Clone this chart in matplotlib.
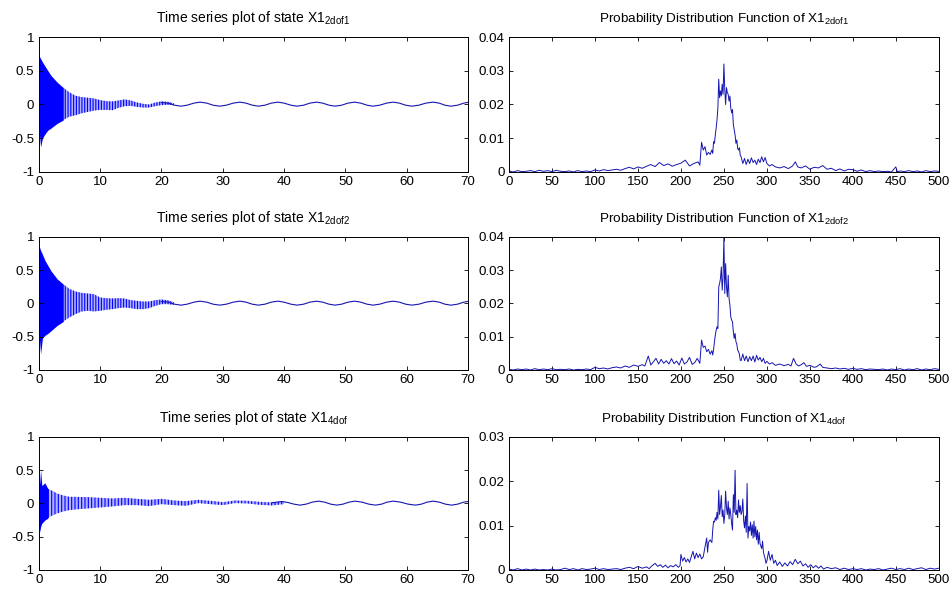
import matplotlib
matplotlib.use('Agg')
import matplotlib.pyplot as plt
from matplotlib.ticker import FuncFormatter

plt.rcParams['font.family'] = ['Liberation Sans', 'DejaVu Sans']
plt.rcParams['mathtext.fontset'] = 'custom'
plt.rcParams['mathtext.rm'] = 'Liberation Sans'
plt.rcParams['mathtext.it'] = 'Liberation Sans:italic'
plt.rcParams['hatch.linewidth'] = 0.8
plt.rcParams['hatch.color'] = '#0000ff'

# ---------------- time-series data ----------------
# envelope of the dense high-frequency part
ts1_t = [0, 0.3, 0.6, 1, 1.5, 2, 3, 4, 5, 6, 7, 8, 9, 10, 11, 12, 13, 14, 15, 16, 17, 18, 19, 20, 21, 22]
ts1_hi = [0.73, 0.68, 0.63, 0.57, 0.5, 0.43, 0.33, 0.25, 0.18, 0.13, 0.11, 0.10, 0.09, 0.065, 0.05, 0.045,
          0.06, 0.075, 0.06, 0.03, 0.01, 0.0, 0.03, 0.045, 0.04, 0.02]
ts1_lo = [-0.33, -0.63, -0.5, -0.44, -0.38, -0.35, -0.28, -0.23, -0.18, -0.16, -0.13, -0.11, -0.09, -0.08,
          -0.08, -0.085, -0.05, -0.025, -0.02, -0.035, -0.045, -0.045, -0.025, -0.01, -0.005, -0.01]

ts2_t = [0, 0.3, 0.6, 1, 1.5, 2, 3, 4, 5, 6, 7, 8, 9, 10, 11, 12, 13, 14, 15, 16, 17, 18, 19, 20, 21, 22]
ts2_hi = [0.88, 0.8, 0.74, 0.65, 0.57, 0.49, 0.37, 0.29, 0.22, 0.18, 0.16, 0.15, 0.14, 0.09, 0.08, 0.075,
          0.08, 0.075, 0.05, 0.04, 0.03, 0.03, 0.05, 0.06, 0.05, 0.02]
ts2_lo = [-0.4, -0.76, -0.52, -0.48, -0.45, -0.41, -0.33, -0.27, -0.21, -0.16, -0.12, -0.11, -0.12, -0.11,
          -0.095, -0.085, -0.07, -0.06, -0.07, -0.085, -0.085, -0.07, -0.035, -0.01, -0.01, -0.02]

ts3_t = [0, 0.15, 0.3, 0.5, 1, 1.5, 2, 3, 4, 5, 6, 8, 10, 12, 14, 16, 18, 20, 22, 24, 26, 28, 30, 32,
         34, 36, 38, 40]
ts3_hi = [0.38, 0.3, 0.51, 0.27, 0.31, 0.22, 0.2, 0.15, 0.12, 0.1, 0.1, 0.095, 0.085, 0.075, 0.085, 0.07,
          0.055, 0.07, 0.045, 0.035, 0.055, 0.04, 0.02, 0.045, 0.04, 0.025, 0.015, 0.03]
ts3_lo = [-0.3, -0.43, -0.35, -0.3, -0.25, -0.22, -0.19, -0.15, -0.12, -0.1, -0.09, -0.075, -0.06, -0.045,
          -0.025, -0.025, -0.04, -0.01, -0.025, -0.035, 0.005, -0.01, -0.025, 0.005, 0.0, -0.02, -0.03, -0.01]

# slow tail oscillation (peaks, troughs and in-between readings)
tail1_t = [20.0, 21.1, 22.1, 23.2, 24.2, 25.3, 26.3, 27.4, 28.4, 29.5, 30.6, 31.7, 32.8, 33.8, 34.8, 35.8,
           36.9, 37.9, 39.0, 40.0, 41.1, 42.1, 43.2, 44.2, 45.3, 46.3, 47.3, 48.3, 49.4, 50.4, 51.5, 52.5,
           53.5, 54.5, 55.6, 56.7, 57.8, 58.8, 59.8, 60.8, 62.0, 63.1, 64.3, 65.3, 66.2, 67.2, 68.3, 69.3, 70.0]
tail1_v = [0.03, 0.02, -0.01, -0.025, -0.01, 0.02, 0.035, 0.02, -0.01, -0.025, -0.01, 0.02, 0.035, 0.02,
           -0.01, -0.025, -0.01, 0.02, 0.035, 0.02, -0.01, -0.025, -0.01, 0.02, 0.035, 0.02, -0.01, -0.025,
           -0.01, 0.02, 0.035, 0.02, -0.01, -0.025, -0.01, 0.02, 0.035, 0.02, -0.01, -0.025, -0.01, 0.02,
           0.035, 0.02, -0.01, -0.025, -0.01, 0.02, 0.032]
tail2_t = [20.0, 21.1, 22.1, 23.2, 24.2, 25.3, 26.3, 27.4, 28.4, 29.5, 30.6, 31.7, 32.8, 33.8, 34.8, 35.8,
           36.9, 37.9, 39.0, 40.0, 41.1, 42.1, 43.2, 44.2, 45.3, 46.3, 47.3, 48.3, 49.4, 50.4, 51.5, 52.5,
           53.5, 54.5, 55.6, 56.7, 57.8, 58.8, 59.8, 60.8, 62.0, 63.1, 64.3, 65.3, 66.2, 67.2, 68.3, 69.3, 70.0]
tail2_v = [0.03, 0.02, -0.01, -0.025, -0.01, 0.02, 0.035, 0.02, -0.01, -0.025, -0.01, 0.02, 0.035, 0.02,
           -0.01, -0.025, -0.01, 0.02, 0.035, 0.02, -0.01, -0.025, -0.01, 0.02, 0.035, 0.02, -0.01, -0.025,
           -0.01, 0.02, 0.035, 0.02, -0.01, -0.025, -0.01, 0.02, 0.035, 0.02, -0.01, -0.025, -0.01, 0.02,
           0.035, 0.02, -0.01, -0.025, -0.01, 0.02, 0.032]
tail3_t = [38.0, 39.6, 40.6, 41.6, 42.6, 43.6, 44.6, 45.6, 46.6, 47.6, 48.6, 49.6, 50.6, 51.6, 52.7, 53.8,
           54.9, 55.9, 56.8, 57.8, 59.0, 60.2, 61.4, 62.4, 63.3, 64.3, 65.3, 66.3, 67.3, 68.3, 69.3, 70.0]
tail3_v = [0.01, 0.03, 0.015, -0.01, -0.025, -0.01, 0.02, 0.035, 0.02, -0.01, -0.025, -0.01, 0.02, 0.035,
           0.02, -0.01, -0.025, -0.01, 0.02, 0.035, 0.02, -0.01, -0.025, -0.01, 0.02, 0.035, 0.02, -0.01,
           -0.025, -0.01, 0.02, 0.03]

# ---------------- PDF data ----------------
pdf1_x = [0, 5, 10, 15, 20, 25, 30, 35, 40, 45, 50, 55, 60, 65, 70, 75, 80, 85, 90, 95, 100, 105, 110, 115,
          120, 125, 130, 135, 140, 145, 150, 155, 160, 165, 170, 175, 180, 185, 190, 195, 200, 205, 210, 215,
          220, 222, 224, 226, 228, 230, 232, 234, 236, 237, 238, 239, 240, 241, 242, 243, 244, 245, 246, 247,
          248, 249, 250, 251, 252, 253, 254, 255, 256, 257, 258, 259, 260, 261, 262, 263, 264, 265, 266, 267,
          268, 269, 270, 272, 274, 276, 278, 280, 282, 284, 286, 288, 290, 292, 294, 296, 298, 300, 303, 306,
          310, 315, 320, 325, 330, 333, 336, 340, 345, 350, 355, 360, 365, 370, 375, 380, 385, 390, 395, 400,
          405, 410, 415, 420, 425, 430, 435, 440, 445, 450, 452, 455, 460, 465, 470, 475, 480, 485, 490, 495, 500]
pdf1_y = [0.0003, 0, 0.0004, 0.0001, 0.0002, 0.0004, 0.0001, 0.0005, 0.0002, 0.0004, 0.0001, 0.0005, 0.0002,
          0.0001, 0.0003, 0, 0.0004, 0.0001, 0.0003, 0.0001, 0.0006, 0.0003, 0.0007, 0.0004, 0.0006, 0.0008,
          0.0005, 0.001, 0.0014, 0.0009, 0.0015, 0.0011, 0.0017, 0.0022, 0.0016, 0.0028, 0.0019, 0.0024,
          0.0017, 0.0022, 0.0026, 0.0035, 0.0018, 0.0025, 0.003,
          0.002, 0.0088, 0.0065, 0.0075, 0.005, 0.0058, 0.0052, 0.0065, 0.0055, 0.009, 0.0085, 0.011, 0.013,
          0.0155, 0.019, 0.0275, 0.022, 0.024, 0.0225, 0.026, 0.023, 0.032, 0.0245, 0.02, 0.025, 0.0235,
          0.023, 0.021, 0.0225, 0.019, 0.0175, 0.0185, 0.014, 0.0125, 0.011, 0.0085, 0.0095, 0.007, 0.0065,
          0.0072, 0.005, 0.0045, 0.0025, 0.004, 0.0022, 0.0038, 0.0025, 0.0042, 0.0028, 0.0035, 0.0022,
          0.0038, 0.0028, 0.0045, 0.003, 0.0043, 0.0025, 0.0018, 0.0022, 0.0015, 0.0012, 0.0016, 0.001,
          0.0018, 0.003, 0.0015, 0.0012, 0.0018, 0.0008, 0.0014, 0.0012, 0.0019, 0.0008, 0.0011, 0.0004,
          0.0009, 0.0003, 0.0008, 0.0007, 0.0002, 0.0006, 0.0001, 0.0004, 0.0001, 0.0003, 0.0001, 0.0002, 0,
          0.0015, 0, 0.0003, 0.0001, 0.0004, 0.0001, 0.0003, 0, 0.0004, 0.0001, 0.0003, 0.0002]

pdf2_x = [0, 5, 10, 15, 20, 25, 30, 35, 40, 45, 50, 55, 60, 65, 70, 75, 80, 85, 90, 95, 100, 105, 110, 115,
          120, 125, 130, 135, 140, 145, 150, 155, 158, 162, 165, 168, 171, 174, 177, 180, 183, 186, 189, 192,
          195, 198, 201, 204, 207, 210, 213, 216, 219, 222, 224, 226, 228, 230, 232, 234, 236, 237, 238, 239,
          240, 241, 242, 243, 244, 245, 246, 247, 248, 249, 250, 251, 252, 253, 254, 255, 256, 257, 258, 259,
          260, 261, 262, 263, 264, 265, 266, 267, 268, 269, 270, 272, 274, 276, 278, 280, 282, 284, 286, 288,
          290, 292, 294, 296, 298, 300, 303, 306, 310, 315, 320, 325, 328, 331, 334, 337, 340, 343, 346, 350,
          355, 358, 362, 365, 370, 375, 380, 385, 390, 395, 400, 405, 410, 415, 420, 425, 430, 435, 440, 445,
          450, 455, 460, 465, 470, 475, 480, 485, 490, 495, 500]
pdf2_y = [0.0002, 0, 0.0003, 0.0001, 0.0003, 0, 0.0004, 0.0001, 0.0003, 0.0001, 0.0004, 0.0001, 0.0002,
          0.0001, 0.0003, 0, 0.0002, 0.0001, 0.0003, 0.0001, 0.0008, 0.0004, 0.0006, 0.0003, 0.0007, 0.0009,
          0.0006, 0.0012, 0.0008, 0.0015, 0.0011, 0.0016, 0.0012, 0.0042, 0.0015, 0.0025, 0.0035, 0.0018,
          0.0032, 0.002, 0.0028, 0.0018, 0.0034, 0.0019, 0.0027, 0.0015, 0.0036, 0.0018, 0.0024, 0.0038,
          0.0017, 0.0022, 0.0035, 0.002, 0.009, 0.0068, 0.0072, 0.0055, 0.0062, 0.0048, 0.0058, 0.0045,
          0.0062, 0.0085, 0.0105, 0.012, 0.013, 0.0125, 0.025, 0.026, 0.0275, 0.031, 0.024, 0.028, 0.04,
          0.023, 0.032, 0.025, 0.022, 0.0285, 0.0215, 0.0195, 0.016, 0.015, 0.0145, 0.0115, 0.0095, 0.011,
          0.0085, 0.0078, 0.006, 0.0055, 0.0048, 0.003, 0.0028, 0.0048, 0.0028, 0.0042, 0.0025, 0.004,
          0.0028, 0.0042, 0.0024, 0.0044, 0.003, 0.0038, 0.0025, 0.0035, 0.002, 0.0026, 0.0018, 0.0022,
          0.0014, 0.0018, 0.0013, 0.0017, 0.0012, 0.0035, 0.0018, 0.0012, 0.0016, 0.0022, 0.0011, 0.0014,
          0.0008, 0.001, 0.0018, 0.0008, 0.0006, 0.0004, 0.0006, 0.0003, 0.0005, 0.0002, 0.0005, 0.0002,
          0.0004, 0.0001, 0.0003, 0.0002, 0.0001, 0.0003, 0, 0.0003, 0.0001, 0.0004, 0, 0.0003, 0.0001,
          0.0004, 0, 0.0003, 0.0001, 0.0004, 0.0002]

pdf3_x = [0, 5, 10, 15, 20, 25, 30, 35, 40, 45, 50, 55, 60, 65, 70, 75, 80, 85, 90, 95, 100, 105, 110, 115,
          120, 125, 130, 135, 140, 145, 150, 155, 160, 163, 166, 170, 173, 176, 179, 182, 185, 188, 191, 194,
          197, 199, 200, 202, 204, 206, 208, 210, 212, 214, 216, 218, 220, 222, 224, 226, 228, 230, 231, 232,
          234, 236, 237, 238, 239, 240, 241, 242, 243, 244, 245, 246, 247, 248, 249, 250, 251, 252, 253, 254,
          255, 256, 257, 258, 259, 260, 261, 262, 263, 264, 265, 266, 267, 268, 269, 270, 271, 272, 273, 274,
          275, 276, 277, 278, 279, 280, 281, 282, 283, 284, 285, 286, 287, 288, 289, 290, 291, 292, 294, 295,
          296, 298, 299, 300, 302, 304, 306, 308, 310, 312, 315, 318, 321, 324, 327, 330, 333, 336, 339, 342,
          345, 348, 351, 354, 357, 360, 363, 366, 370, 375, 380, 385, 390, 395, 400, 405, 410, 415, 420, 425,
          430, 435, 440, 445, 450, 455, 460, 465, 470, 475, 480, 485, 490, 495, 500]
pdf3_y = [0.0002, 0, 0.0003, 0, 0.0002, 0, 0.0002, 0, 0.0001, 0, 0.0002, 0, 0.0001, 0.0004, 0.0001, 0.0003,
          0, 0.0003, 0.0001, 0.0002, 0.0004, 0.0001, 0.0003, 0.0001, 0.0002, 0.0003, 0.0001, 0.0004, 0.0006,
          0.0003, 0.0008, 0.0004, 0.0007, 0.0003, 0.0009, 0.0015, 0.0008, 0.0012, 0.0006, 0.0011, 0.0005,
          0.001, 0.0007, 0.0012, 0.0006, 0.001, 0.0035, 0.002, 0.0028, 0.0018, 0.0025, 0.0017, 0.003, 0.0042,
          0.0025, 0.0038, 0.0028, 0.0036, 0.0025, 0.003, 0.0052, 0.0072, 0.004, 0.0062, 0.0068, 0.0062,
          0.009, 0.011, 0.0108, 0.0118, 0.0112, 0.013, 0.0115, 0.018, 0.0125, 0.0142, 0.0168, 0.012, 0.0135,
          0.0105, 0.0125, 0.0178, 0.014, 0.0125, 0.0155, 0.0115, 0.014, 0.0125, 0.0105, 0.009, 0.017, 0.013,
          0.0225, 0.0125, 0.0135, 0.0118, 0.0158, 0.013, 0.0145, 0.0125, 0.0132, 0.016, 0.011, 0.0095, 0.0122,
          0.0085, 0.0195, 0.0072, 0.0098, 0.0088, 0.0108, 0.0078, 0.0102, 0.0072, 0.011, 0.0075, 0.0098,
          0.0068, 0.009, 0.0058, 0.0085, 0.006, 0.0048, 0.0065, 0.004, 0.0025, 0.0015, 0.002, 0.0042, 0.0022,
          0.0035, 0.0015, 0.0022, 0.001, 0.0018, 0.0008, 0.0016, 0.0009, 0.0019, 0.0012, 0.0024, 0.0014,
          0.002, 0.0009, 0.0014, 0.0006, 0.0012, 0.0005, 0.001, 0.0004, 0.0009, 0.0002, 0.0006, 0.0003,
          0.0005, 0.0001, 0.0004, 0.0001, 0.0003, 0.0001, 0.0003, 0, 0.0002, 0.0001, 0.0003, 0, 0.0002,
          0.0004, 0.0001, 0.0003, 0.0001, 0.0004, 0.0001, 0.0003, 0.0005, 0.0001, 0.0004, 0.0002, 0.0004]

ts_titles = [r'Time series plot of state X1$_{\mathrm{2dof1}}$',
             r'Time series plot of state X1$_{\mathrm{2dof2}}$',
             r'Time series plot of state X1$_{\mathrm{4dof}}$']
pdf_titles = [r'Probability Distribution Function of X1$_{\mathrm{2dof1}}$',
              r'Probability Distribution Function of X1$_{\mathrm{2dof2}}$',
              r'Probability Distribution Function of X1$_{\mathrm{4dof}}$']
ts_xticks = [0, 10, 20, 30, 40, 50, 60, 70]
ts_yticks = [-1, -0.5, 0, 0.5, 1]
pdf_xticks = [0, 50, 100, 150, 200, 250, 300, 350, 400, 450, 500]
pdf_yticks = [[0, 0.01, 0.02, 0.03, 0.04], [0, 0.01, 0.02, 0.03, 0.04], [0, 0.01, 0.02, 0.03]]

BLUE = '#0000ff'
LINE = '#1515b0'

fig = plt.figure(figsize=(9.52, 5.92), dpi=100)
fig.patch.set_facecolor('white')

lefts = [0.0407, 0.5347]
widths = [0.451, 0.4514]
rows = [(0.7095, 0.228), (0.375, 0.2247), (0.0372, 0.2247)]
solid_until = [4.0, 4.0, 1.5]      # where the oscillation is drawn as a solid mass
stripe_hatch = ['||||||', '||||||', '|||||']

fmt = FuncFormatter(lambda v, p: '%g' % v)


def style(ax):
    ax.tick_params(direction='in', top=True, right=True, length=3.2, width=0.6,
                   labelsize=9.6, colors='black')
    ax.tick_params(axis='x', pad=3)
    ax.tick_params(axis='y', pad=3.2)
    for s in ax.spines.values():
        s.set_linewidth(0.7)
        s.set_color('black')
    ax.yaxis.set_major_formatter(fmt)
    ax.xaxis.set_major_formatter(fmt)


bands = [(ts1_t, ts1_lo, ts1_hi, tail1_t, tail1_v),
         (ts2_t, ts2_lo, ts2_hi, tail2_t, tail2_v),
         (ts3_t, ts3_lo, ts3_hi, tail3_t, tail3_v)]
pdfs = [(pdf1_x, pdf1_y), (pdf2_x, pdf2_y), (pdf3_x, pdf3_y)]

for i, (b, h) in enumerate(rows):
    ax = fig.add_axes([lefts[0], b, widths[0], h])
    t, lo, hi, tt, tv = bands[i]
    s = solid_until[i]
    ax.fill_between(t, lo, hi, where=[x <= s for x in t], color=BLUE, linewidth=0)
    ax.fill_between(t, lo, hi, where=[x >= s for x in t], facecolor=BLUE, alpha=0.3, linewidth=0)
    ax.fill_between(t, lo, hi, where=[x >= s for x in t], facecolor='none', edgecolor=BLUE,
                    hatch=stripe_hatch[i], linewidth=0)
    ax.plot(tt, tv, color=LINE, lw=0.8)
    ax.set_xlim(0, 70)
    ax.set_ylim(-1, 1)
    ax.set_xticks(ts_xticks)
    ax.set_yticks(ts_yticks)
    style(ax)
    ax.set_title(ts_titles[i], fontsize=10, pad=10.5)

    ax2 = fig.add_axes([lefts[1], b, widths[1], h])
    px, py = pdfs[i]
    ax2.plot(px, py, color=LINE, lw=0.7)
    ax2.set_xlim(0, 500)
    ax2.set_ylim(pdf_yticks[i][0], pdf_yticks[i][-1])
    ax2.set_xticks(pdf_xticks)
    ax2.set_yticks(pdf_yticks[i])
    style(ax2)
    ax2.set_title(pdf_titles[i], fontsize=9.7, pad=10.5)

fig.savefig('out.png', dpi=100, facecolor='white')
